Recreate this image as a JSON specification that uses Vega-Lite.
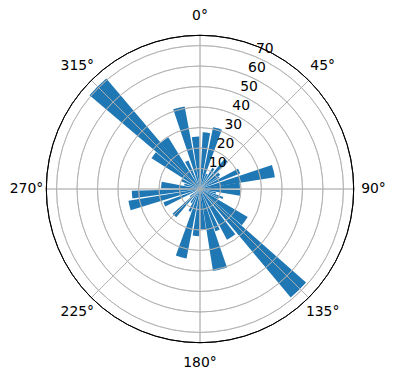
{
  "$schema": "https://vega.github.io/schema/vega-lite/v6.json",
  "width": 400,
  "height": 378,
  "autosize": {"type": "none"},
  "padding": 0,
  "background": "white",
  "view": {"stroke": null},
  "config": {"font": "DejaVu Sans"},
  "datasets": {
    "bars": [
      {"t0": 2.7, "t1": 10.3, "r": 27.7},
      {"t0": 12, "t1": 20.3, "r": 30.8},
      {"t0": 22, "t1": 28, "r": 8},
      {"t0": 30, "t1": 36, "r": 12},
      {"t0": 39, "t1": 46, "r": 19},
      {"t0": 48, "t1": 55, "r": 12},
      {"t0": 56, "t1": 60, "r": 11},
      {"t0": 62, "t1": 69, "r": 21},
      {"t0": 71.5, "t1": 81, "r": 37},
      {"t0": 80.5, "t1": 89.5, "r": 19.5},
      {"t0": 91.4, "t1": 99.5, "r": 19.7},
      {"t0": 101, "t1": 107, "r": 8},
      {"t0": 109, "t1": 114, "r": 12},
      {"t0": 115, "t1": 119, "r": 10},
      {"t0": 120.5, "t1": 131, "r": 27},
      {"t0": 131.4, "t1": 140.1, "r": 69},
      {"t0": 142, "t1": 152, "r": 28},
      {"t0": 154, "t1": 160, "r": 22},
      {"t0": 161, "t1": 171, "r": 40.5},
      {"t0": 171.5, "t1": 179.5, "r": 19.8},
      {"t0": 181, "t1": 189, "r": 23},
      {"t0": 191, "t1": 200, "r": 34.5},
      {"t0": 202, "t1": 208, "r": 12},
      {"t0": 210, "t1": 216, "r": 8},
      {"t0": 220, "t1": 228, "r": 18},
      {"t0": 230, "t1": 236, "r": 6},
      {"t0": 243.4, "t1": 250, "r": 19},
      {"t0": 253, "t1": 260.6, "r": 35.4},
      {"t0": 262.1, "t1": 268.6, "r": 33.3},
      {"t0": 271, "t1": 280.8, "r": 19},
      {"t0": 283, "t1": 290, "r": 8},
      {"t0": 292, "t1": 300, "r": 10},
      {"t0": 302.4, "t1": 309.7, "r": 28},
      {"t0": 310.3, "t1": 319.7, "r": 70.7},
      {"t0": 319.4, "t1": 328.5, "r": 29.6},
      {"t0": 331, "t1": 338, "r": 15},
      {"t0": 341.4, "t1": 349.5, "r": 41},
      {"t0": 351, "t1": 359.3, "r": 25.6}
    ],
    "rings": [
      {"r": 10}, {"r": 20}, {"r": 30}, {"r": 40}, {"r": 50}, {"r": 60}, {"r": 70}
    ],
    "spokes": [
      {"a": 0, "label": "0°"}, {"a": 45, "label": "45°"}, {"a": 90, "label": "90°"},
      {"a": 135, "label": "135°"}, {"a": 180, "label": "180°"}, {"a": 225, "label": "225°"},
      {"a": 270, "label": "270°"}, {"a": 315, "label": "315°"}
    ],
    "outer": [{"r": 75, "a0": 0, "a1": 360}]
  },
  "layer": [
    {
      "data": {"name": "bars"},
      "mark": {"type": "arc", "color": "#1f77b4"},
      "encoding": {
        "theta": {"field": "t0", "type": "quantitative", "stack": null, "scale": {"domain": [0, 360], "range": [0, 6.283185307]}},
        "theta2": {"field": "t1"},
        "radius": {"field": "r", "type": "quantitative", "scale": {"type": "linear", "domain": [0, 75], "range": [0, 153.7], "zero": true, "nice": false}}
      }
    },
    {
      "data": {"name": "rings"},
      "mark": {"type": "arc", "fill": null, "filled": false, "stroke": "#b0b0b0", "strokeWidth": 0.8, "theta": 0, "theta2": 6.283185307},
      "encoding": {
        "radius": {"field": "r", "type": "quantitative", "scale": {"type": "linear", "domain": [0, 75], "range": [0, 153.7], "zero": true, "nice": false}},
        "radius2": {"field": "r"}
      }
    },
    {
      "data": {"name": "spokes"},
      "mark": {"type": "arc", "fill": null, "filled": false, "stroke": "#b0b0b0", "strokeWidth": 0.8, "radius": 153.7, "radius2": 0},
      "encoding": {
        "theta": {"field": "a", "type": "quantitative", "stack": null, "scale": {"domain": [0, 360], "range": [0, 6.283185307]}},
        "theta2": {"field": "a"}
      }
    },
    {
      "data": {"name": "outer"},
      "mark": {"type": "arc", "fill": null, "filled": false, "stroke": "black", "strokeWidth": 1, "theta": 0, "theta2": 6.283185307},
      "encoding": {
        "radius": {"field": "r", "type": "quantitative", "scale": {"type": "linear", "domain": [0, 75], "range": [0, 153.7], "zero": true, "nice": false}},
        "radius2": {"field": "r"}
      }
    },
    {
      "data": {"name": "spokes"},
      "mark": {"type": "text", "radius": 173.5, "fontSize": 13.9, "align": "center", "baseline": "middle", "color": "black"},
      "encoding": {
        "theta": {"field": "a", "type": "quantitative", "stack": null, "scale": {"domain": [0, 360], "range": [0, 6.283185307]}},
        "text": {"field": "label"}
      }
    },
    {
      "data": {"name": "rings"},
      "mark": {"type": "text", "theta": 0.3927, "fontSize": 13.9, "align": "left", "baseline": "bottom", "dx": 1, "color": "black"},
      "encoding": {
        "radius": {"field": "r", "type": "quantitative", "scale": {"type": "linear", "domain": [0, 75], "range": [0, 153.7], "zero": true, "nice": false}},
        "text": {"field": "r", "type": "quantitative"}
      }
    }
  ]
}
